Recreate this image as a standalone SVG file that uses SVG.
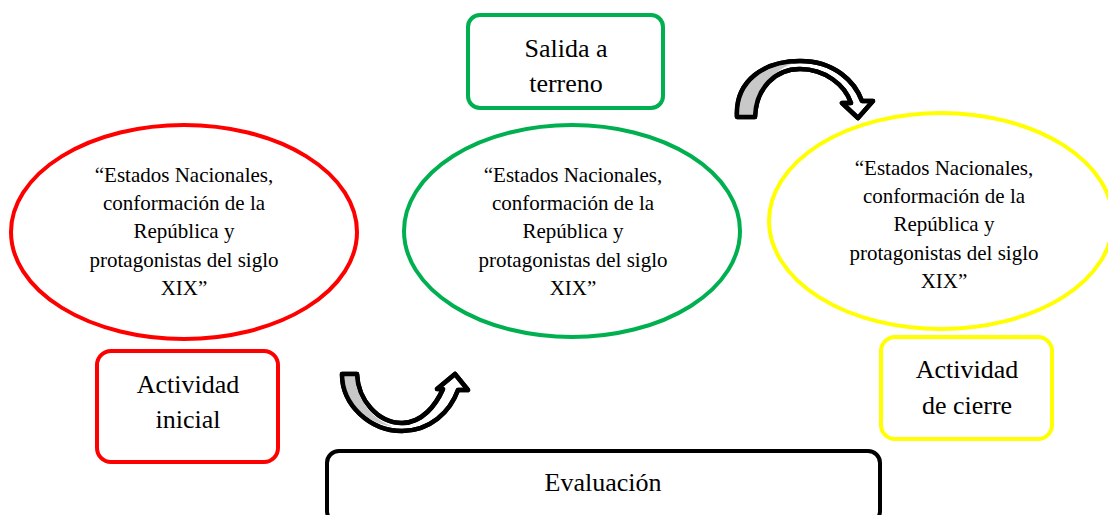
<svg xmlns="http://www.w3.org/2000/svg" width="1108" height="515" viewBox="0 0 1108 515">
<style>
.t{fill:#000;text-anchor:middle}
.e{font-size:21px}
.b{font-size:26px}
.red{stroke:#ff0000}
.grn{stroke:#00b050}
.yel{stroke:#ffff00}
.blk{stroke:#000}
.shape{fill:#fff;stroke-width:4}
.arrow{fill:#fff;stroke:#000;stroke-width:4.5;stroke-linejoin:round}
.shade{fill:#c8c8c8;stroke:none}
.outline{fill:none;stroke:#000;stroke-width:4.5;stroke-linejoin:round}
</style>
<rect width="1108" height="515" fill="#fff"/>
<g font-family="'Liberation Serif', Tinos, 'DejaVu Serif', serif">
<g id="ellipse-red">
<ellipse class="shape red" cx="184" cy="232" rx="173" ry="107"/>
<text class="t e" x="184" y="182">“Estados Nacionales,</text>
<text class="t e" x="184" y="210">conformación de la</text>
<text class="t e" x="184" y="238">República y</text>
<text class="t e" x="184" y="267">protagonistas del siglo</text>
<text class="t e" x="184" y="295">XIX”</text>
</g>
<g id="ellipse-green">
<ellipse class="shape grn" cx="572" cy="231" rx="168" ry="106"/>
<text class="t e" x="573" y="182">“Estados Nacionales,</text>
<text class="t e" x="573" y="210">conformación de la</text>
<text class="t e" x="573" y="238">República y</text>
<text class="t e" x="573" y="267">protagonistas del siglo</text>
<text class="t e" x="573" y="295">XIX”</text>
</g>
<g id="ellipse-yellow">
<ellipse class="shape yel" cx="941" cy="221" rx="172" ry="108"/>
<text class="t e" x="944" y="175">“Estados Nacionales,</text>
<text class="t e" x="944" y="203">conformación de la</text>
<text class="t e" x="944" y="231">República y</text>
<text class="t e" x="944" y="260">protagonistas del siglo</text>
<text class="t e" x="944" y="288">XIX”</text>
</g>
<g id="box-inicial">
<rect class="shape red" x="97" y="351" width="181" height="111" rx="14"/>
<text class="t b" x="188" y="393">Actividad</text>
<text class="t b" x="188" y="428">inicial</text>
</g>
<g id="box-terreno">
<rect class="shape grn" x="468" y="15" width="195" height="93" rx="12"/>
<text class="t b" x="566" y="57">Salida a</text>
<text class="t b" x="566" y="92">terreno</text>
</g>
<g id="box-cierre">
<rect class="shape yel" x="881" y="337" width="171" height="102" rx="14"/>
<text class="t b" x="967" y="378">Actividad</text>
<text class="t b" x="967" y="414">de cierre</text>
</g>
<g id="box-evaluacion">
<rect class="shape blk" x="327" y="451" width="553" height="72" rx="12"/>
<text class="t b" x="603" y="491">Evaluación</text>
</g>
</g>
<g id="connectors">
<g id="arrow-top">
<path class="arrow" d="M737,117 C735,80 765,61 800,61 C835,61 855,82 862,101 L873,101 L858,118 L842,103 L851,103 C845,85 825,69 800,69 C775,69 756,88 755,117 Z"/>
<path class="shade" d="M739,116 C737,84 763,65 794,63 C772,70 757,92 753,116 Z"/>
<path class="outline" d="M737,117 C735,80 765,61 800,61 C835,61 855,82 862,101 L873,101 L858,118 L842,103 L851,103 C845,85 825,69 800,69 C775,69 756,88 755,117 Z"/>
</g>
<g id="arrow-bottom">
<path class="arrow" d="M342,374 L357,374 C358,400 378,423 402,423 C422,423 436,405 443,389 L437,389 L455,374 L468,390 L458,390 C450,412 430,431 402,431 C370,431 342,405 342,374 Z"/>
<path class="shade" d="M344,376 L355,376 C357,401 373,420 394,427 C366,423 344,404 344,376 Z"/>
<path class="outline" d="M342,374 L357,374 C358,400 378,423 402,423 C422,423 436,405 443,389 L437,389 L455,374 L468,390 L458,390 C450,412 430,431 402,431 C370,431 342,405 342,374 Z"/>
</g>
</g>
</svg>
